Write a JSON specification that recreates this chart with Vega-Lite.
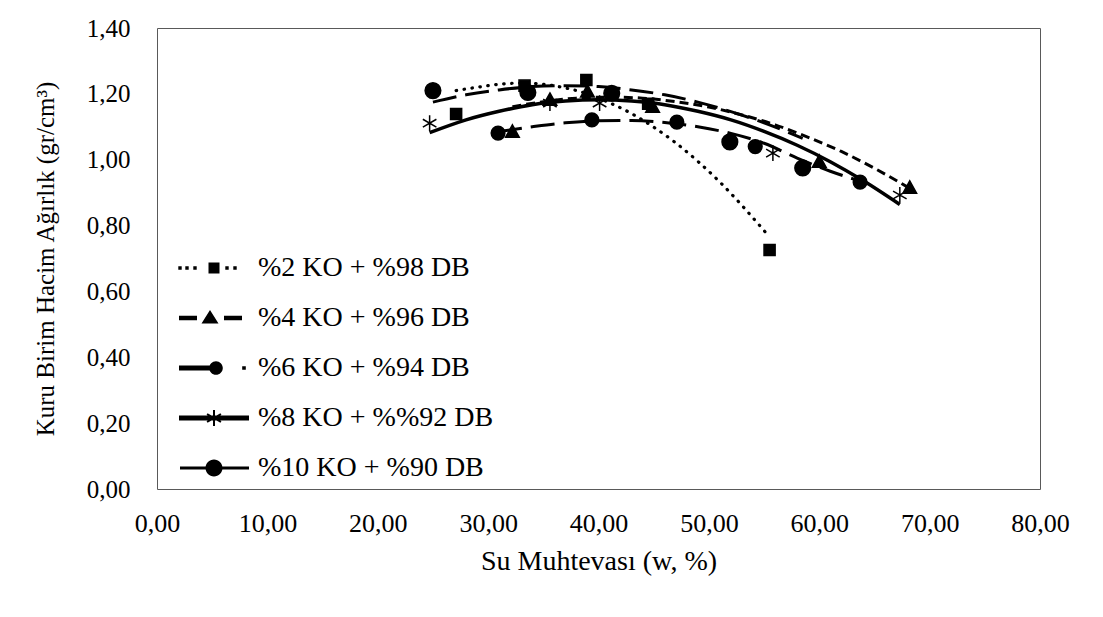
{
  "$schema": "https://vega.github.io/schema/vega-lite/v6.json",
  "width": 883,
  "height": 461,
  "autosize": {"type": "none"},
  "padding": {"left": 157, "top": 28, "right": 63, "bottom": 128},
  "background": "white",
  "config": {
    "view": {"stroke": "#595959", "strokeWidth": 1},
    "font": "Liberation Serif",
    "axis": {
      "domain": false, "ticks": false, "grid": false, "labelFlush": false,
      "labelFont": "Liberation Serif", "labelFontSize": 25, "labelColor": "black",
      "titleFont": "Liberation Serif", "titleFontSize": 25, "titleFontWeight": "normal", "titleColor": "black"
    },
    "legend": {
      "labelFont": "Liberation Serif", "labelFontSize": 28, "labelColor": "black", "labelLimit": 500
    }
  },
  "datasets": {
    "points": [
      {"series": "%2 KO + %98 DB", "w": 27.1, "gd": 1.139},
      {"series": "%2 KO + %98 DB", "w": 33.3, "gd": 1.225},
      {"series": "%2 KO + %98 DB", "w": 38.9, "gd": 1.242},
      {"series": "%2 KO + %98 DB", "w": 44.5, "gd": 1.170},
      {"series": "%2 KO + %98 DB", "w": 55.5, "gd": 0.726},
      {"series": "%4 KO + %96 DB", "w": 32.2, "gd": 1.084},
      {"series": "%4 KO + %96 DB", "w": 35.6, "gd": 1.181},
      {"series": "%4 KO + %96 DB", "w": 39.0, "gd": 1.206},
      {"series": "%4 KO + %96 DB", "w": 44.9, "gd": 1.160},
      {"series": "%4 KO + %96 DB", "w": 60.0, "gd": 0.993},
      {"series": "%4 KO + %96 DB", "w": 68.2, "gd": 0.914},
      {"series": "%6 KO + %94 DB", "w": 30.9, "gd": 1.081},
      {"series": "%6 KO + %94 DB", "w": 39.4, "gd": 1.121},
      {"series": "%6 KO + %94 DB", "w": 47.1, "gd": 1.114},
      {"series": "%6 KO + %94 DB", "w": 54.2, "gd": 1.040},
      {"series": "%6 KO + %94 DB", "w": 63.7, "gd": 0.932},
      {"series": "%8 KO + %%92 DB", "w": 24.7, "gd": 1.111},
      {"series": "%8 KO + %%92 DB", "w": 35.6, "gd": 1.172},
      {"series": "%8 KO + %%92 DB", "w": 40.1, "gd": 1.172},
      {"series": "%8 KO + %%92 DB", "w": 55.8, "gd": 1.020},
      {"series": "%8 KO + %%92 DB", "w": 67.3, "gd": 0.893},
      {"series": "%10 KO + %90 DB", "w": 25.0, "gd": 1.210},
      {"series": "%10 KO + %90 DB", "w": 33.6, "gd": 1.204},
      {"series": "%10 KO + %90 DB", "w": 41.2, "gd": 1.202},
      {"series": "%10 KO + %90 DB", "w": 51.9, "gd": 1.054},
      {"series": "%10 KO + %90 DB", "w": 58.5, "gd": 0.975}
    ],
    "trend": [
      {"series": "%2 KO + %98 DB", "w": 27.1, "gd": 1.210},
      {"series": "%2 KO + %98 DB", "w": 29, "gd": 1.220},
      {"series": "%2 KO + %98 DB", "w": 31, "gd": 1.229},
      {"series": "%2 KO + %98 DB", "w": 33, "gd": 1.233},
      {"series": "%2 KO + %98 DB", "w": 35, "gd": 1.229},
      {"series": "%2 KO + %98 DB", "w": 37, "gd": 1.218},
      {"series": "%2 KO + %98 DB", "w": 39, "gd": 1.200},
      {"series": "%2 KO + %98 DB", "w": 41, "gd": 1.173},
      {"series": "%2 KO + %98 DB", "w": 43, "gd": 1.140},
      {"series": "%2 KO + %98 DB", "w": 45, "gd": 1.099},
      {"series": "%2 KO + %98 DB", "w": 47, "gd": 1.051},
      {"series": "%2 KO + %98 DB", "w": 49, "gd": 0.995},
      {"series": "%2 KO + %98 DB", "w": 51, "gd": 0.932},
      {"series": "%2 KO + %98 DB", "w": 53, "gd": 0.861},
      {"series": "%2 KO + %98 DB", "w": 55.5, "gd": 0.765},
      {"series": "%4 KO + %96 DB", "w": 32.2, "gd": 1.161},
      {"series": "%4 KO + %96 DB", "w": 35, "gd": 1.176},
      {"series": "%4 KO + %96 DB", "w": 38, "gd": 1.187},
      {"series": "%4 KO + %96 DB", "w": 41, "gd": 1.190},
      {"series": "%4 KO + %96 DB", "w": 44, "gd": 1.187},
      {"series": "%4 KO + %96 DB", "w": 47, "gd": 1.176},
      {"series": "%4 KO + %96 DB", "w": 50, "gd": 1.160},
      {"series": "%4 KO + %96 DB", "w": 53, "gd": 1.136},
      {"series": "%4 KO + %96 DB", "w": 56, "gd": 1.106},
      {"series": "%4 KO + %96 DB", "w": 59, "gd": 1.068},
      {"series": "%4 KO + %96 DB", "w": 62, "gd": 1.025},
      {"series": "%4 KO + %96 DB", "w": 65, "gd": 0.974},
      {"series": "%4 KO + %96 DB", "w": 68.2, "gd": 0.913},
      {"series": "%6 KO + %94 DB", "w": 30.9, "gd": 1.085},
      {"series": "%6 KO + %94 DB", "w": 34, "gd": 1.100},
      {"series": "%6 KO + %94 DB", "w": 37, "gd": 1.112},
      {"series": "%6 KO + %94 DB", "w": 40, "gd": 1.118},
      {"series": "%6 KO + %94 DB", "w": 43, "gd": 1.119},
      {"series": "%6 KO + %94 DB", "w": 46, "gd": 1.113},
      {"series": "%6 KO + %94 DB", "w": 49, "gd": 1.100},
      {"series": "%6 KO + %94 DB", "w": 52, "gd": 1.080},
      {"series": "%6 KO + %94 DB", "w": 55, "gd": 1.050},
      {"series": "%6 KO + %94 DB", "w": 58, "gd": 1.005},
      {"series": "%6 KO + %94 DB", "w": 61, "gd": 0.965},
      {"series": "%6 KO + %94 DB", "w": 63.7, "gd": 0.935},
      {"series": "%8 KO + %%92 DB", "w": 24.7, "gd": 1.082},
      {"series": "%8 KO + %%92 DB", "w": 28, "gd": 1.121},
      {"series": "%8 KO + %%92 DB", "w": 31, "gd": 1.147},
      {"series": "%8 KO + %%92 DB", "w": 34, "gd": 1.167},
      {"series": "%8 KO + %%92 DB", "w": 37, "gd": 1.178},
      {"series": "%8 KO + %%92 DB", "w": 40, "gd": 1.182},
      {"series": "%8 KO + %%92 DB", "w": 43, "gd": 1.178},
      {"series": "%8 KO + %%92 DB", "w": 46, "gd": 1.167},
      {"series": "%8 KO + %%92 DB", "w": 49, "gd": 1.147},
      {"series": "%8 KO + %%92 DB", "w": 52, "gd": 1.121},
      {"series": "%8 KO + %%92 DB", "w": 55, "gd": 1.086},
      {"series": "%8 KO + %%92 DB", "w": 58, "gd": 1.044},
      {"series": "%8 KO + %%92 DB", "w": 61, "gd": 0.994},
      {"series": "%8 KO + %%92 DB", "w": 64, "gd": 0.936},
      {"series": "%8 KO + %%92 DB", "w": 67.3, "gd": 0.864},
      {"series": "%10 KO + %90 DB", "w": 25.0, "gd": 1.175},
      {"series": "%10 KO + %90 DB", "w": 28, "gd": 1.197},
      {"series": "%10 KO + %90 DB", "w": 31, "gd": 1.212},
      {"series": "%10 KO + %90 DB", "w": 34, "gd": 1.222},
      {"series": "%10 KO + %90 DB", "w": 37, "gd": 1.225},
      {"series": "%10 KO + %90 DB", "w": 40, "gd": 1.222},
      {"series": "%10 KO + %90 DB", "w": 43, "gd": 1.212},
      {"series": "%10 KO + %90 DB", "w": 46, "gd": 1.197},
      {"series": "%10 KO + %90 DB", "w": 49, "gd": 1.175},
      {"series": "%10 KO + %90 DB", "w": 52, "gd": 1.146},
      {"series": "%10 KO + %90 DB", "w": 55, "gd": 1.112},
      {"series": "%10 KO + %90 DB", "w": 58.5, "gd": 1.065}
    ]
  },
  "encoding": {
    "x": {
      "field": "w", "type": "quantitative",
      "scale": {"domain": [0, 80], "nice": false, "zero": false},
      "axis": {
        "values": [0, 10, 20, 30, 40, 50, 60, 70, 80],
        "labelExpr": "replace(format(datum.value, '.2f'), '.', ',')",
        "labelFontSize": 26,
        "labelPadding": 21, "titlePadding": 11, "titleFontSize": 28,
        "title": "Su Muhtevası (w, %)"
      }
    },
    "y": {
      "field": "gd", "type": "quantitative",
      "scale": {"domain": [0, 1.4], "nice": false, "zero": false},
      "axis": {
        "values": [0, 0.2, 0.4, 0.6, 0.8, 1.0, 1.2, 1.4],
        "labelExpr": "replace(format(datum.value, '.2f'), '.', ',')",
        "labelPadding": 27, "titlePadding": 28,
        "title": "Kuru Birim Hacim Ağırlık (gr/cm³)"
      }
    }
  },
  "layer": [
    {
      "data": {"name": "trend"},
      "transform": [{"filter": "datum.series === '%2 KO + %98 DB'"}],
      "mark": {"type": "line", "color": "black", "strokeWidth": 3.2, "strokeDash": [0.5, 7.5], "strokeCap": "round", "interpolate": "monotone"}
    },
    {
      "data": {"name": "trend"},
      "transform": [{"filter": "datum.series === '%4 KO + %96 DB'"}],
      "mark": {"type": "line", "color": "black", "strokeWidth": 3, "strokeDash": [9, 5], "interpolate": "monotone"}
    },
    {
      "data": {"name": "trend"},
      "transform": [{"filter": "datum.series === '%6 KO + %94 DB'"}],
      "mark": {"type": "line", "color": "black", "strokeWidth": 3, "strokeDash": [24, 9], "interpolate": "monotone"}
    },
    {
      "data": {"name": "trend"},
      "transform": [{"filter": "datum.series === '%8 KO + %%92 DB'"}],
      "mark": {"type": "line", "color": "black", "strokeWidth": 3.5, "interpolate": "monotone"}
    },
    {
      "data": {"name": "trend"},
      "transform": [{"filter": "datum.series === '%10 KO + %90 DB'"}],
      "mark": {"type": "line", "color": "black", "strokeWidth": 3, "strokeDash": [24, 9], "interpolate": "monotone"}
    },
    {
      "data": {"name": "points"},
      "mark": {"type": "point", "filled": true, "color": "black", "stroke": "black", "strokeWidth": 1.5, "opacity": 1, "size": 170},
      "encoding": {
        "shape": {
          "field": "series", "type": "nominal",
          "scale": {
            "domain": ["%2 KO + %98 DB", "%4 KO + %96 DB", "%6 KO + %94 DB", "%8 KO + %%92 DB", "%10 KO + %90 DB"],
            "range": [
              "M-0.85,-0.85H0.85V0.85H-0.85Z",
              "M0,-1.1L1.05,0.8L-1.05,0.8Z",
              "M-1.05,0A1.05,1.05 0 1,1 1.05,0A1.05,1.05 0 1,1 -1.05,0Z",
              "M0,-1.2V1.2M-1.04,-0.6L1.04,0.6M-1.04,0.6L1.04,-0.6",
              "M-1.2,0A1.2,1.2 0 1,1 1.2,0A1.2,1.2 0 1,1 -1.2,0Z"
            ]
          },
          "legend": null
        }
      }
    },
    {
      "data": {"name": "points"},
      "mark": {"type": "point", "filled": true, "color": "black", "opacity": 0, "size": 1},
      "encoding": {
        "shape": {
          "field": "series", "type": "nominal",
          "scale": {
            "domain": ["%2 KO + %98 DB", "%4 KO + %96 DB", "%6 KO + %94 DB", "%8 KO + %%92 DB", "%10 KO + %90 DB"],
            "range": [
              "M-3.57,-0.17h0.34v0.34h-0.34Z M-2.87,-0.17h0.34v0.34h-0.34Z M-2.07,-0.17h0.34v0.34h-0.34Z M-0.55,-0.55h1.1v1.1h-1.1Z M1.13,-0.17h0.34v0.34h-0.34Z M1.93,-0.17h0.34v0.34h-0.34Z",
              "M-3.5,-0.22H-1.7V0.22H-3.5Z M-0.4,-0.8L0.45,0.55L-1.25,0.55Z M1.0,-0.22H2.8V0.22H1.0Z",
              "M-3.5,-0.25H0.2V0.25H-3.5Z M-0.48,0A0.68,0.68 0 1,1 0.88,0A0.68,0.68 0 1,1 -0.48,0Z M2.82,-0.18h0.36v0.36h-0.36Z",
              "M-3.5,-0.25H3.5V0.25H-3.5Z M-0.1,-0.8H0.1V0.8H-0.1Z M-0.743,-0.313L-0.643,-0.487L0.743,0.313L0.643,0.487Z M-0.643,0.487L-0.743,0.313L0.643,-0.487L0.743,-0.313Z",
              "M-3.4,-0.16H3.5V0.16H-3.4Z M-0.85,0A0.85,0.85 0 1,1 0.85,0A0.85,0.85 0 1,1 -0.85,0Z"
            ]
          },
          "legend": {
            "title": null,
            "orient": "none",
            "legendX": 43,
            "legendY": 226,
            "padding": 0,
            "symbolSize": 400,
            "symbolOpacity": 1,
            "symbolFillColor": "black",
            "symbolStrokeColor": "black",
            "symbolStrokeWidth": 0,
            "labelOffset": 30,
            "rowPadding": 22,
            "labelFontSize": 28
          }
        }
      }
    }
  ],
  "resolve": {"scale": {"shape": "independent"}}
}
